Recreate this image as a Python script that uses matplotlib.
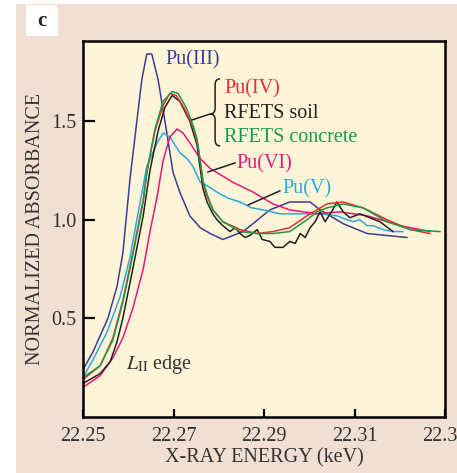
import numpy as np
import matplotlib
matplotlib.use("Agg")
import matplotlib.pyplot as plt
from matplotlib.path import Path
from matplotlib.patches import PathPatch, Rectangle

plt.rcParams['font.family'] = ['Liberation Serif', 'DejaVu Serif']
plt.rcParams['mathtext.fontset'] = 'stix'
plt.rcParams['lines.solid_joinstyle'] = 'round'

# ---- data (keV, normalized absorbance) ----
pu3_e = [22.2500, 22.2522, 22.2555, 22.2575, 22.2588, 22.2599, 22.2604, 22.2619, 22.2630,
         22.2641, 22.2652, 22.2666, 22.2681, 22.2699, 22.2714, 22.2736, 22.2759, 22.2781,
         22.2809, 22.2854, 22.2913, 22.2957, 22.3002, 22.3024, 22.3075, 22.3128, 22.3216]
pu3_a = [0.24, 0.33, 0.50, 0.66, 0.83, 1.09, 1.21, 1.50, 1.71, 1.84, 1.84, 1.71, 1.50, 1.24,
         1.14, 1.02, 0.96, 0.93, 0.90, 0.94, 1.05, 1.09, 1.09, 1.05, 0.98, 0.93, 0.91]

pu4_e = [22.2500, 22.2538, 22.2566, 22.2588, 22.2610, 22.2633, 22.2641, 22.2659, 22.2677,
         22.2692, 22.2706, 22.2725, 22.2743, 22.2752, 22.2759, 22.2765, 22.2774, 22.2787,
         22.2809, 22.2847, 22.2885, 22.2920, 22.2957, 22.2995, 22.3017, 22.3039, 22.3075,
         22.3119, 22.3172, 22.3223, 22.3267]
pu4_a = [0.19, 0.26, 0.40, 0.59, 0.83, 1.10, 1.24, 1.45, 1.58, 1.64, 1.63, 1.56, 1.47, 1.40,
         1.30, 1.19, 1.12, 1.05, 0.99, 0.95, 0.93, 0.94, 0.96, 1.02, 1.05, 1.08, 1.09, 1.06,
         1.00, 0.95, 0.93]

soil_e = [22.2500, 22.2515, 22.2538, 22.2560, 22.2575, 22.2588, 22.2610, 22.2633, 22.2648,
          22.2666, 22.2681, 22.2697, 22.2714, 22.2736, 22.2752, 22.2759, 22.2765, 22.2774,
          22.2787, 22.2796, 22.2809, 22.2825, 22.2836, 22.2847, 22.2858, 22.2869, 22.2885,
          22.2896, 22.2913, 22.2924, 22.2942, 22.2957, 22.2969, 22.2980, 22.2991, 22.3002,
          22.3013, 22.3024, 22.3035, 22.3052, 22.3061, 22.3075, 22.3090, 22.3112, 22.3134,
          22.3156, 22.3185]
soil_a = [0.17, 0.19, 0.22, 0.28, 0.38, 0.50, 0.75, 1.02, 1.25, 1.45, 1.57, 1.63, 1.60, 1.50,
          1.38, 1.26, 1.16, 1.09, 1.03, 1.00, 0.97, 0.94, 0.96, 0.93, 0.91, 0.92, 0.95, 0.90,
          0.89, 0.86, 0.86, 0.89, 0.88, 0.93, 0.91, 0.96, 0.99, 1.04, 0.99, 1.05, 1.09, 1.04,
          1.01, 1.03, 1.01, 0.99, 0.94]

conc_e = [22.2500, 22.2538, 22.2566, 22.2588, 22.2610, 22.2633, 22.2641, 22.2659, 22.2677,
          22.2697, 22.2710, 22.2730, 22.2743, 22.2752, 22.2759, 22.2765, 22.2774, 22.2787,
          22.2809, 22.2847, 22.2885, 22.2920, 22.2957, 22.2995, 22.3017, 22.3039, 22.3075,
          22.3119, 22.3172, 22.3223, 22.3289]
conc_a = [0.20, 0.26, 0.39, 0.58, 0.82, 1.09, 1.24, 1.46, 1.60, 1.65, 1.64, 1.56, 1.48, 1.41,
          1.30, 1.20, 1.13, 1.05, 0.99, 0.94, 0.93, 0.93, 0.94, 1.00, 1.04, 1.06, 1.08, 1.06,
          0.99, 0.95, 0.94]

pu6_e = [22.2500, 22.2538, 22.2566, 22.2588, 22.2610, 22.2633, 22.2648, 22.2664, 22.2677,
         22.2692, 22.2708, 22.2721, 22.2736, 22.2759, 22.2781, 22.2831, 22.2876, 22.2920,
         22.2957, 22.3017, 22.3068, 22.3128, 22.3201, 22.3267]
pu6_a = [0.15, 0.21, 0.30, 0.40, 0.55, 0.75, 0.94, 1.12, 1.30, 1.42, 1.46, 1.44, 1.39, 1.31,
         1.26, 1.19, 1.14, 1.08, 1.05, 1.03, 1.04, 1.02, 0.97, 0.94]

pu5_e = [22.2500, 22.2522, 22.2553, 22.2582, 22.2604, 22.2619, 22.2641, 22.2664, 22.2677,
         22.2692, 22.2714, 22.2730, 22.2743, 22.2759, 22.2776, 22.2796, 22.2820, 22.2847,
         22.2873, 22.2898, 22.2935, 22.2980, 22.3024, 22.3061, 22.3083, 22.3097, 22.3112,
         22.3128, 22.3141, 22.3163, 22.3185, 22.3207]
pu5_a = [0.20, 0.29, 0.43, 0.61, 0.81, 1.00, 1.27, 1.39, 1.44, 1.42, 1.34, 1.31, 1.27, 1.19,
         1.17, 1.14, 1.11, 1.09, 1.06, 1.05, 1.03, 1.03, 1.03, 1.02, 1.00, 0.99, 1.00, 0.97,
         0.97, 0.95, 0.94, 0.94]

x_ticks = [22.25, 22.27, 22.29, 22.31, 22.33]
x_ticklabels = ["22.25", "22.27", "22.29", "22.31", "22.33"]
y_ticks = [0.5, 1.0, 1.5]
y_ticklabels = ["0.5", "1.0", "1.5"]

NAVY = '#3b3d98'
RED = '#ee2c2c'
BLACK = '#231f20'
GREEN = '#1b9a4b'
MAGENTA = '#e8197c'
CYAN = '#2aa9e0'

fig = plt.figure(figsize=(4.57, 4.73), dpi=100, facecolor='white')
# pinkish panel background
fig.patches.append(Rectangle((16 / 457, 0), 1, 469 / 473, transform=fig.transFigure,
                             facecolor='#f2dfd3', edgecolor='none', zorder=-2))
# panel letter box
fig.patches.append(Rectangle((26 / 457, 1 - 36 / 473), 32 / 457, 31 / 473,
                             transform=fig.transFigure, facecolor='white',
                             edgecolor='none', zorder=-1))
fig.text(42 / 457, 1 - 21 / 473, "c", fontsize=15, fontweight='bold',
         ha='center', va='center', color='#222222')

ax = fig.add_axes([83 / 457, 1 - 417 / 473, 362 / 457, 376 / 473])
ax.set_zorder(1)
ax.set_facecolor('#fef4d7')

lw = 1.1
ax.plot(pu3_e, pu3_a, color=NAVY, lw=lw)
ax.plot(pu5_e, pu5_a, color=CYAN, lw=lw)
ax.plot(pu6_e, pu6_a, color=MAGENTA, lw=lw)
ax.plot(soil_e, soil_a, color=BLACK, lw=lw)
ax.plot(pu4_e, pu4_a, color=RED, lw=lw)
ax.plot(conc_e, conc_a, color=GREEN, lw=lw)

ax.set_xlim(22.25, 22.33)
ax.set_ylim(0.0, 1.906)
ax.set_xticks(x_ticks)
ax.set_xticklabels(x_ticklabels)
ax.set_yticks(y_ticks)
ax.set_yticklabels(y_ticklabels)
for s in ax.spines.values():
    s.set_linewidth(1.8)
ax.tick_params(axis='x', direction='in', length=6, width=1.6, labelsize=14.5, pad=7,
               colors='black', labelcolor='#333333')
ax.tick_params(axis='y', direction='in', length=8.5, width=1.6, labelsize=14.5, pad=5,
               colors='black', labelcolor='#333333')
ax.set_xlabel("X-RAY ENERGY (keV)", fontsize=14.5, color='#333333', labelpad=2)
ax.set_ylabel("NORMALIZED ABSORBANCE", fontsize=14.5, color='#333333', labelpad=4)

fs = 14.5
ax.text(22.2683, 1.811, "Pu(III)", color=NAVY, fontsize=fs, va='center')
ax.text(22.2812, 1.663, "Pu(IV)", color=RED, fontsize=fs, va='center')
ax.text(22.2812, 1.536, "RFETS soil", color=BLACK, fontsize=fs, va='center')
ax.text(22.2812, 1.415, "RFETS concrete", color=GREEN, fontsize=fs, va='center')
ax.text(22.2840, 1.283, "Pu(VI)", color=MAGENTA, fontsize=fs, va='center')
ax.text(22.2940, 1.156, "Pu(V)", color=CYAN, fontsize=fs, va='center')
ax.text(22.2595, 0.267, r"$L_{\mathrm{II}}$ edge", color='#333333', fontsize=fs, va='center')

# curly brace grouping the three similar spectra
verts = [(22.2803, 1.714), (22.2792, 1.714), (22.2792, 1.684),
         (22.2792, 1.567), (22.2792, 1.536), (22.2781, 1.536),
         (22.2792, 1.536), (22.2792, 1.506),
         (22.2792, 1.405), (22.2792, 1.374), (22.2803, 1.374)]
codes = [Path.MOVETO, Path.CURVE3, Path.CURVE3,
         Path.LINETO, Path.CURVE3, Path.CURVE3,
         Path.CURVE3, Path.CURVE3,
         Path.LINETO, Path.CURVE3, Path.CURVE3]
ax.add_patch(PathPatch(Path(verts, codes), facecolor='none', edgecolor=BLACK, lw=1.1))

# leader lines
ax.plot([22.2741, 22.2781], [1.506, 1.536], color=BLACK, lw=1.1)
ax.plot([22.2776, 22.2836], [1.242, 1.288], color=BLACK, lw=1.1)
ax.plot([22.2865, 22.2935], [1.075, 1.146], color=BLACK, lw=1.1)

fig.savefig("out.png", dpi=100, facecolor=fig.get_facecolor())
